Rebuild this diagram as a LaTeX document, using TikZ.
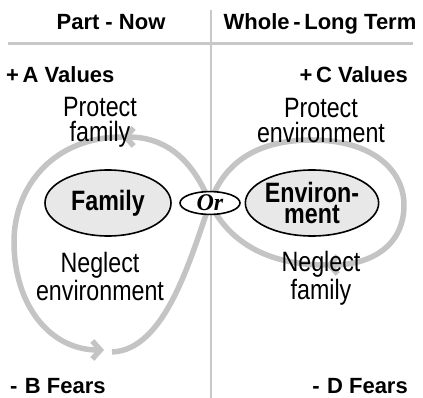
\documentclass[tikz,border=0pt]{standalone}
\usepackage{fontspec}
\setmainfont{Liberation Sans}
\newfontfamily\narrowfont[FakeStretch=0.83]{Liberation Sans}
\newfontfamily\orfont{Liberation Serif}
\usetikzlibrary{shapes.geometric,arrows.meta}
\definecolor{loopgray}{HTML}{C4C4C4}
\definecolor{rulegray}{HTML}{C8C8C8}
\definecolor{topicfill}{HTML}{E8E8E8}
\tikzset{
  head/.style={font=\bfseries\fontsize{22}{24}\selectfont, inner sep=0pt, anchor=base},
  note/.style={font=\narrowfont\fontsize{28}{25}\selectfont, align=center, inner sep=0pt, anchor=base},
  topic/.style={ellipse, draw, line width=1.6pt, fill=topicfill, minimum width=126pt,
    minimum height=66pt, inner sep=0pt, align=center, font=\narrowfont\bfseries\fontsize{28}{21}\selectfont},
  loopline/.style={draw=loopgray, line width=5.5pt},
  looptip/.style={-{Straight Barb[length=8pt,width=18pt]}}
}
\begin{document}
\begin{tikzpicture}[x=1pt,y=-1pt]
  \useasboundingbox (0,0) rectangle (423,398);
  % the loop
  \draw[loopline,looptip] (112,352) .. controls (165,350) and (190,260) .. (210,203)
    .. controls (225,160) and (260,140) .. (312,140)
    .. controls (372,140) and (404,170) .. (404,205)
    .. controls (404,245) and (372,265) .. (326,265);
  \draw[loopline,looptip] (326,265) .. controls (265,265) and (228,240) .. (210,203)
    .. controls (195,165) and (170,137) .. (122,137);
  \draw[loopline,looptip] (122,137) .. controls (55,137) and (14,185) .. (14,242)
    .. controls (14,305) and (50,350) .. (104,350);
  % rules
  \draw[rulegray,line width=2.5pt] (8,43.5) -- (413,43.5);
  \draw[rulegray,line width=2.5pt] (211,10) -- (211,398);
  % headings
  \node[head] (part) at (111,30) {Part - Now};
  \node[head] (whole) at (320,30) {Whole\,-\,Long Term};
  \node[head,anchor=base west] (avals) at (6,83) {+\,A Values};
  \node[head,anchor=base east] (cvals) at (408,83) {+\,C Values};
  \node[head,anchor=base west] (bfears) at (10,393) {-\,\,B Fears};
  \node[head,anchor=base east] (dfears) at (408,393) {-\,\,D Fears};
  % sayings (base = last line)
  \node[note] (protfam) at (100,142) {Protect\\family};
  \node[note] (negenv) at (100,300) {Neglect\\environment};
  \node[note] (protenv) at (321,143) {Protect\\environment};
  \node[note] (negfam) at (321,299) {Neglect\\family};
  % choices
  \node[topic] (family) at (108,203) {Family};
  \node[topic] (environ) at (312,203) {Environ-\\ment};
  \node[ellipse,draw,line width=1.6pt,fill=white,minimum width=60pt,minimum height=21pt,
    inner sep=0pt,font=\orfont\bfseries\itshape\fontsize{24}{24}\selectfont] (or) at (210,203) {Or};
\end{tikzpicture}
\end{document}
